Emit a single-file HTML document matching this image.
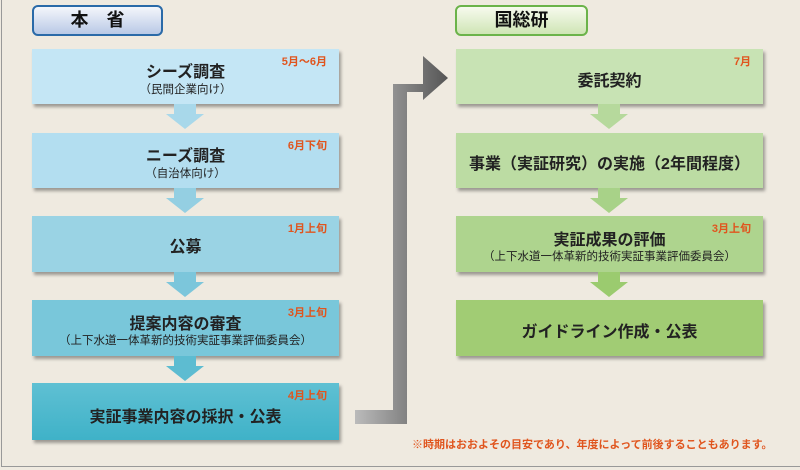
<!DOCTYPE html>
<html><head><meta charset="utf-8"><style>
body{margin:0;width:800px;height:470px;overflow:hidden;background:#efeae0;font-family:"Liberation Sans","Noto Sans CJK JP",sans-serif;position:relative}
.frame{position:absolute;left:1px;top:-2px;width:830px;height:469px;border:1px solid #999;box-sizing:border-box}
.b{position:absolute;box-shadow:2px 3px 3px rgba(0,0,0,.35);text-align:center;color:#222;font-weight:bold}
.hd{position:absolute;border-radius:6px;text-align:center;font-weight:bold;font-size:18px;line-height:27px;color:#111}
.t{position:absolute;width:100%;left:0;font-size:16px}
.s{position:absolute;width:100%;left:0;font-size:11.5px;font-weight:normal}
.m{position:absolute;right:12px;top:4px;font-size:11px;color:#e0551e;font-weight:bold}
.note{position:absolute;left:412px;top:436px;font-size:11px;color:#e0551e;font-weight:bold}
</style></head><body>
<div class="frame"></div>
<div class="hd" style="left:32px;top:5px;width:127px;height:27px;border:2px solid #2a6aa8;background:linear-gradient(#f4f6fb,#b9c9e6)">本　省</div>
<div class="hd" style="left:455px;top:5px;width:129px;height:27px;border:2px solid #6bb34a;background:linear-gradient(#f7faee,#cfe5b5)">国総研</div>

<div class="b" style="left:32px;top:49px;width:307px;height:55px;background:#c4e6f5"><div class="t" style="top:9px">シーズ調査</div><div class="s" style="top:32px">（民間企業向け）</div><div class="m">5月～6月</div></div>
<div class="b" style="left:32px;top:133px;width:307px;height:55px;background:#b3def0"><div class="t" style="top:9px">ニーズ調査</div><div class="s" style="top:32px">（自治体向け）</div><div class="m">6月下旬</div></div>
<div class="b" style="left:32px;top:216px;width:307px;height:56px;background:#9ad3e4"><div class="t" style="top:17px">公募</div><div class="m">1月上旬</div></div>
<div class="b" style="left:32px;top:300px;width:307px;height:56px;background:#79c7da"><div class="t" style="top:10px">提案内容の審査</div><div class="s" style="top:32px">（上下水道一体革新的技術実証事業評価委員会）</div><div class="m">3月上旬</div></div>
<div class="b" style="left:32px;top:383px;width:307px;height:57px;background:linear-gradient(#5fc0d3,#3fb2c8)"><div class="t" style="top:20px">実証事業内容の採択・公表</div><div class="m">4月上旬</div></div>

<div class="b" style="left:456px;top:49px;width:307px;height:55px;background:#c8e3b4"><div class="t" style="top:18px">委託契約</div><div class="m">7月</div></div>
<div class="b" style="left:456px;top:133px;width:307px;height:55px;background:#bcdca3"><div class="t" style="top:17px">事業（実証研究）の実施（2年間程度）</div></div>
<div class="b" style="left:456px;top:216px;width:307px;height:56px;background:#aed48e"><div class="t" style="top:10px">実証成果の評価</div><div class="s" style="top:32px">（上下水道一体革新的技術実証事業評価委員会）</div><div class="m">3月上旬</div></div>
<div class="b" style="left:456px;top:300px;width:307px;height:56px;background:#a1cc74"><div class="t" style="top:18px">ガイドライン作成・公表</div></div>

<svg width="800" height="470" style="position:absolute;left:0;top:0">
<defs><linearGradient id="g" x1="0" x2="1"><stop offset="0" stop-color="#bbb"/><stop offset="1" stop-color="#555"/></linearGradient></defs>
<g fill="#a8d8ea"><polygon points="174,104 196,104 196,114 204,114 185,129 166,114 174,114"/></g>
<g fill="#94cfe2"><polygon points="174,188 196,188 196,198 204,198 185,213 166,198 174,198"/></g>
<g fill="#7cc6db"><polygon points="174,272 196,272 196,282 204,282 185,297 166,282 174,282"/></g>
<g fill="#5dbcd1"><polygon points="174,356 196,356 196,366 204,366 185,381 166,366 174,366"/></g>
<g fill="#b6d99c"><polygon points="598,104 620,104 620,114 628,114 609,129 590,114 598,114"/></g>
<g fill="#a8d288"><polygon points="598,188 620,188 620,198 628,198 609,213 590,198 598,198"/></g>
<g fill="#9bcb6f"><polygon points="598,272 620,272 620,282 628,282 609,297 590,282 598,282"/></g>
<path d="M355,410 H393 V84 H423 V56 L448,78 L423,100 V92 H407 V424 H355 Z" fill="url(#g)"/>
</svg>
<div class="note">※時期はおおよその目安であり、年度によって前後することもあります。</div>
</body></html>
